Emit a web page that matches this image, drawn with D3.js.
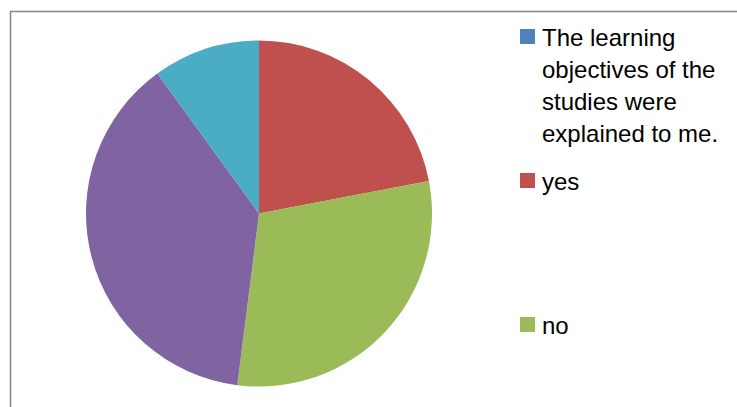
<!DOCTYPE html>
<html>
<head>
<meta charset="utf-8">
<script src="https://cdn.jsdelivr.net/npm/d3@7"></script>
<style>
  html, body { margin: 0; padding: 0; background: #ffffff; overflow: hidden; }
  svg { display: block; }
</style>
</head>
<body>
<div id="chart"></div>
<script>
// Survey answers, shares in percent (first entry is the question title series, which is empty)
const sliceValues = [0, 22, 30, 38, 10];
const sliceColors = ["#4F81BD", "#C0504D", "#9BBB59", "#8064A2", "#4BACC6"];
const legendLabels = [
  ["The learning", "objectives of the", "studies were", "explained to me."],
  ["yes"],
  ["no"]
];

const W = 737, H = 407;
const svg = d3.select("#chart").append("svg")
  .attr("width", W).attr("height", H);

// chart frame (continues past the right and bottom edges)
svg.append("rect")
  .attr("x", 10.5).attr("y", 11.5)
  .attr("width", 800).attr("height", 500)
  .attr("fill", "#ffffff")
  .attr("stroke", "#8a8a8a")
  .attr("stroke-width", 1.6);

// pie
const cx = 259, cy = 213.5, R = 173;
const pie = d3.pie().sort(null).value(d => d);
const arc = d3.arc().innerRadius(0).outerRadius(R);

svg.append("g")
  .attr("transform", `translate(${cx},${cy})`)
  .selectAll("path")
  .data(pie(sliceValues))
  .join("path")
  .attr("d", arc)
  .attr("fill", (d, i) => sliceColors[i]);

// legend
const legendX = 520, legendTop = 29, legendStep = 144, sw = 15;
const lineH = 32;
const lg = svg.append("g")
  .attr("font-family", "'Liberation Sans', Arial, sans-serif")
  .attr("font-size", "24px")
  .attr("fill", "#000000");

legendLabels.forEach((lines, i) => {
  const y0 = legendTop + i * legendStep;
  lg.append("rect")
    .attr("x", legendX).attr("y", y0)
    .attr("width", sw).attr("height", sw)
    .attr("fill", sliceColors[i]);
  const t = lg.append("text")
    .attr("x", legendX + 22)
    .attr("y", y0 + 17);
  lines.forEach((s, j) => {
    t.append("tspan")
      .attr("x", legendX + 22)
      .attr("y", y0 + 17 + j * lineH)
      .text(s);
  });
});
</script>
</body>
</html>
